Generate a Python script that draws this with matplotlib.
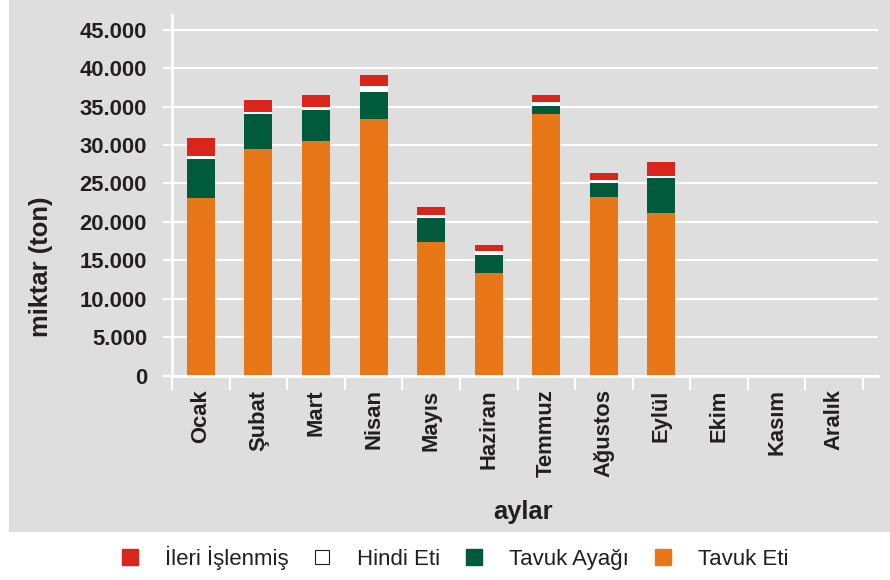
import numpy as np
import matplotlib
matplotlib.use("Agg")
import matplotlib.pyplot as plt
from matplotlib.lines import Line2D
from matplotlib.patches import Rectangle
from matplotlib.ticker import FuncFormatter, FixedLocator

plt.rcParams['font.family'] = ['Liberation Sans', 'DejaVu Sans']

months = ["Ocak", "Şubat", "Mart", "Nisan", "Mayıs", "Haziran", "Temmuz",
          "Ağustos", "Eylül", "Ekim", "Kasım", "Aralık"]
tavuk_eti = [23150, 29500, 30550, 33400, 17400, 13350, 34050, 23250, 21150]
tavuk_ayagi = [5000, 4550, 4050, 3500, 3100, 2350, 1050, 1800, 4550]
hindi_eti = [400, 250, 400, 800, 400, 500, 500, 400, 250]
ileri_islenmis = [2350, 1580, 1550, 1450, 1050, 800, 900, 900, 1800]
series_labels = ["Tavuk Eti", "Tavuk Ayağı", "Hindi Eti", "İleri İşlenmiş"]
yticks = [0, 5000, 10000, 15000, 20000, 25000, 30000, 35000, 40000, 45000]

c_orange = "#E87817"
c_green = "#005A3C"
c_white = "#FFFFFF"
c_red = "#DA251D"
c_bg = "#DEDEDE"
c_text = "#231F20"

W, H = 890, 580
fig = plt.figure(figsize=(W / 100, H / 100), dpi=100)
fig.patch.set_facecolor("white")
fig.patches.append(Rectangle((9 / W, (H - 532) / H), (W - 9) / W, 532 / H,
                             transform=fig.transFigure, facecolor=c_bg,
                             edgecolor="none", zorder=-10))

left, right = 172, 878
top, bottom = 14.5, 375.5
ax = fig.add_axes([left / W, (H - bottom) / H, (right - left) / W, (bottom - top) / H])
ax.set_facecolor("none")

x = np.arange(len(tavuk_eti))
bw = 0.486
colors = [c_orange, c_green, c_white, c_red]
stack = [tavuk_eti, tavuk_ayagi, hindi_eti, ileri_islenmis]
base = np.zeros(len(x))
for vals, col, lab in zip(stack, colors, series_labels):
    v = np.array(vals, dtype=float)
    ax.bar(x, v, bw, bottom=base, color=col, label=lab, zorder=3, linewidth=0)
    base += v

ax.set_ylim(0, 47000)
ax.set_xlim(-0.5, 11.5 + 15 / 57.6)
ax.yaxis.set_major_locator(FixedLocator(yticks))
ax.yaxis.set_major_formatter(FuncFormatter(lambda v, p: f"{v:,.0f}".replace(",", ".")))
ax.grid(axis="y", color="white", linewidth=1.5, zorder=1)
ax.set_axisbelow(True)

for s in ["top", "right"]:
    ax.spines[s].set_visible(False)
for s in ["left", "bottom"]:
    ax.spines[s].set_color("white")
    ax.spines[s].set_linewidth(2.0)
    ax.spines[s].set_zorder(4)

ax.tick_params(axis="y", which="major", direction="out", length=6.5, width=1.5,
               color="white", pad=11.5, labelsize=15.8, labelcolor=c_text)
for t in ax.get_yticklabels():
    t.set_fontweight("bold")

ax.set_xticks(np.arange(len(months)))
ax.set_xticklabels(months, rotation=90, fontsize=15.8, fontweight="bold",
                   color=c_text, va="top", ha="center")
ax.tick_params(axis="x", which="major", length=0, pad=10)
ax.set_xticks(np.arange(len(months) + 1) - 0.5, minor=True)
ax.tick_params(axis="x", which="minor", direction="out", length=10, width=1.5,
               color="white")

ax.set_ylabel("miktar (ton)", fontsize=18.4, fontweight="bold", color=c_text,
              va="center", ha="center")
ax.yaxis.set_label_coords((41 - left) / (right - left), (bottom - 267) / (bottom - top))
ax.set_xlabel("aylar", fontsize=18.4, fontweight="bold", color=c_text,
              va="center", ha="center")
ax.xaxis.set_label_coords((523 - left) / (right - left), (bottom - 512) / (bottom - top))

handles = [
    Line2D([], [], marker="s", linestyle="none", markersize=11, markerfacecolor=c_red,
           markeredgecolor=c_red),
    Line2D([], [], marker="s", linestyle="none", markersize=10, markerfacecolor="white",
           markeredgecolor=c_text, markeredgewidth=0.8),
    Line2D([], [], marker="s", linestyle="none", markersize=11, markerfacecolor=c_green,
           markeredgecolor=c_green),
    Line2D([], [], marker="s", linestyle="none", markersize=11, markerfacecolor=c_orange,
           markeredgecolor=c_orange),
]
leg_labels = series_labels[::-1]
leg = fig.legend(handles, leg_labels, loc="center", bbox_to_anchor=(454 / W, (H - 558) / H),
                 ncol=4, frameon=False, fontsize=16, handlelength=0.95,
                 handletextpad=1.1, columnspacing=1.05, labelcolor=c_text)

fig.savefig("out.png", dpi=100, facecolor="white")
